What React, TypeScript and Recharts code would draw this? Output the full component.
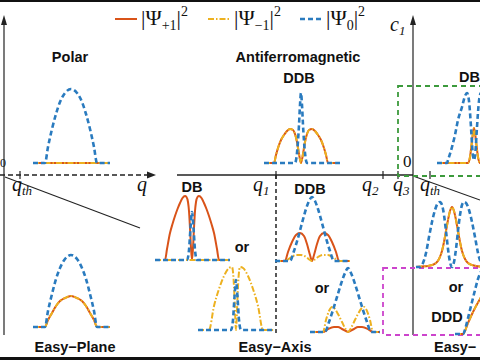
import React from "react";
import { LineChart, Line, XAxis, YAxis } from "recharts";

type Pt = [number, number];

const ORANGE = "#d95319";
const YELLOW = "#edb120";
const BLUE = "#2a7bbf";

// each curve: [offset from the plot centre, density height]
const polarZero: Pt[] = [[-38, 0], [-26, 0], [-23, 16], [-19, 34], [-15, 49], [-11, 61], [-6, 70], [0, 74], [6, 70], [11, 61], [15, 49], [19, 34], [23, 16], [26, 0], [39, 0]];
const polarPlus: Pt[] = [[-38, 0], [39, 0]];
const polarMinus: Pt[] = [[-38, 0], [39, 0]];

const afmPlus: Pt[] = [[-37, 0], [-27, 0], [-25, 8], [-23, 15], [-20, 23], [-17, 28], [-14, 32], [-11, 34], [-8, 33], [-6, 29], [-4, 21], [-2, 9], [0, 0], [2, 9], [4, 21], [6, 29], [8, 33], [11, 34], [14, 32], [17, 28], [20, 23], [23, 15], [25, 8], [27, 0], [39, 0]];
const afmZero: Pt[] = [[-37, 0], [-6, 0], [-4, 10], [-2, 38], [-1, 58], [0, 70], [1, 58], [2, 38], [4, 10], [6, 0], [39, 0]];

const rightDbZero: Pt[] = [[-37, 0], [-27, 0], [-26, 3], [-22, 16], [-19, 28], [-16, 43], [-12, 56], [-9, 67], [-7, 70], [-5, 62], [-3, 36], [-1.5, 12], [0, 3], [1.5, 12], [3, 36], [5, 62], [7, 70], [9, 67], [12, 56], [16, 43]];
const rightDbPlus: Pt[] = [[-37, 0], [-6, 0], [-4, 6], [-2, 22], [-1, 30], [0, 35], [1, 30], [2, 22], [4, 6], [6, 0], [16, 0]];

const easyZero: Pt[] = [[-38, 0], [-26, 0], [-23, 16], [-19, 33], [-15, 48], [-11, 59], [-6, 68], [0, 72], [6, 68], [11, 59], [15, 48], [19, 33], [23, 16], [26, 0], [39, 0]];
const easyPlus: Pt[] = [[-38, 0], [-26, 0], [-23, 7], [-19, 14], [-15, 21], [-11, 26], [-6, 29], [0, 31], [6, 29], [11, 26], [15, 21], [19, 14], [23, 7], [26, 0], [39, 0]];

const dbPlus: Pt[] = [[-28, 0], [-27, 0], [-25, 11], [-22, 27], [-19.5, 36], [-17, 44], [-14.5, 51], [-12, 57], [-9.5, 62], [-7, 64], [-5.5, 63], [-4, 58], [-3, 49], [-2, 32], [-1, 12], [0, 0], [1, 12], [2, 32], [3, 49], [4, 58], [5.5, 63], [7, 64], [9.5, 62], [12, 57], [14.5, 51], [17, 44], [19.5, 36], [22, 27], [25, 11], [27, 0], [28, 0]];
const dbMinus: Pt[] = [[-37, 0], [38, 0]];
const dbZero: Pt[] = [[-37, 0], [-5, 0], [-3, 10], [-1.5, 32], [0, 48], [1.5, 32], [3, 10], [5, 0], [38, 0]];

const dbOrMinus: Pt[] = [[-38, 0], [-27, 0], [-22, 24], [-17, 41], [-12, 54], [-7, 62], [-4, 63], [-2.5, 52], [-1.5, 32], [-0.7, 12], [0, 0], [0.7, 12], [1.5, 32], [2.5, 52], [4, 63], [7, 62], [12, 54], [17, 41], [22, 24], [27, 0], [39, 0]];
const dbOrZero: Pt[] = [[-38, 0], [-5, 0], [-3, 10], [-1.5, 33], [0, 50], [1.5, 33], [3, 10], [5, 0], [39, 0]];

const ddbPlus: Pt[] = [[-37, 0], [-27, 0], [-24, 9], [-20, 19], [-16, 26], [-12, 28], [-8, 25], [-5, 17], [-2, 6], [0, 0], [2, 6], [5, 17], [8, 25], [12, 28], [16, 26], [20, 19], [24, 9], [27, 0], [38, 0]];
const ddbMinus: Pt[] = [[-37, 0], [-27, 0], [-22, 3], [-16, 6], [-11, 6], [-6, 4], [-2, 1], [0, 0], [2, 1], [6, 4], [11, 6], [16, 6], [22, 3], [27, 0], [38, 0]];
const ddbZero: Pt[] = [[-37, 0], [-22, 0], [-18, 10], [-14, 23], [-10, 38], [-6, 52], [-3, 60], [0, 64], [3, 60], [6, 52], [10, 38], [14, 23], [18, 10], [22, 0], [38, 0]];

const ddbOrPlus: Pt[] = [[-38, 0], [-25, 0], [-20, 3], [-14, 5], [-10, 5], [-6, 3], [-2, 1], [0, 0], [2, 1], [6, 3], [10, 5], [14, 5], [20, 3], [25, 0], [32, 0]];
const ddbOrMinus: Pt[] = [[-38, 0], [-25, 0], [-22, 12], [-19, 21], [-16, 25], [-13, 23], [-10, 18], [-6, 10], [-3, 4], [0, 0], [3, 4], [6, 10], [10, 18], [13, 23], [16, 25], [19, 21], [22, 12], [25, 0], [32, 0]];
const ddbOrZero: Pt[] = [[-38, 0], [-23, 0], [-19, 10], [-15, 22], [-11, 35], [-7, 48], [-3, 59], [0, 64], [3, 59], [7, 48], [11, 35], [15, 22], [19, 10], [23, 0], [32, 0]];

const twinZero: Pt[] = [[-36, 0], [-32, 0], [-29, 4], [-26, 14], [-23, 30], [-20, 45], [-17, 57], [-14, 64], [-12, 65], [-10, 62], [-8, 52], [-6, 36], [-4, 18], [-2, 5], [0, 0], [2, 5], [4, 18], [6, 36], [8, 52], [10, 62], [12, 65], [14, 64], [17, 57], [20, 45], [23, 30], [26, 14], [29, 4], [30, 2]];
const twinPlus: Pt[] = [[-36, 0], [-30, 0.5], [-24, 1], [-20, 2], [-16, 4], [-13, 8], [-10, 16], [-8, 25], [-6, 36], [-4, 47], [-2, 56], [0, 60], [2, 56], [4, 47], [6, 36], [8, 25], [10, 16], [13, 8], [16, 4], [20, 2], [24, 1], [30, 0.5]];

const dddZero: Pt[] = [[-45, 0], [-37, 0], [-34, 8], [-31, 20], [-28, 32], [-25, 44], [-22, 55], [-18, 64], [-14, 68], [-8, 70]];
const dddPlus: Pt[] = [[-45, 0], [-37, 0], [-32, 11], [-27, 22], [-20, 35], [-14, 44], [-8, 48]];

const legendSubs = ["+1", "\u22121", "0"];
const legendColors = [ORANGE, YELLOW, BLUE];

type Plot = { cx: number; base: number; xmin: number; xmax: number; h: number; plus?: Pt[]; minus?: Pt[]; zero?: Pt[] };

const plots: Plot[] = [
  { cx: 71, base: 163, xmin: -38, xmax: 39, h: 80, plus: polarPlus, minus: polarMinus, zero: polarZero },
  { cx: 301, base: 163, xmin: -37, xmax: 39, h: 74, plus: afmPlus, minus: afmPlus, zero: afmZero },
  { cx: 474, base: 163, xmin: -37, xmax: 16, h: 74, plus: rightDbPlus, minus: rightDbPlus, zero: rightDbZero },
  { cx: 71, base: 327, xmin: -38, xmax: 39, h: 76, plus: easyPlus, minus: easyPlus, zero: easyZero },
  { cx: 192, base: 260, xmin: -37, xmax: 38, h: 68, plus: dbPlus, minus: dbMinus, zero: dbZero },
  { cx: 236, base: 330, xmin: -38, xmax: 39, h: 68, minus: dbOrMinus, zero: dbOrZero },
  { cx: 312, base: 261, xmin: -37, xmax: 38, h: 68, plus: ddbPlus, minus: ddbMinus, zero: ddbZero },
  { cx: 348, base: 332, xmin: -38, xmax: 32, h: 68, plus: ddbOrPlus, minus: ddbOrMinus, zero: ddbOrZero },
  { cx: 452, base: 267, xmin: -36, xmax: 30, h: 70, plus: twinPlus, minus: twinPlus, zero: twinZero },
  { cx: 500, base: 334, xmin: -45, xmax: -8, h: 72, plus: dddPlus, minus: dddPlus, zero: dddZero },
];

const rows = (pts: Pt[]) => pts.map(([x, y]) => ({ x, y }));

function MiniPlot({ p }: { p: Plot }) {
  const pad = 4;
  return (
    <div style={{ position: "absolute", left: p.cx + p.xmin - pad, top: p.base - p.h - pad }}>
      <LineChart width={p.xmax - p.xmin + pad * 2} height={p.h + pad * 2} margin={{ top: pad, right: pad, bottom: pad, left: pad }}>
        <XAxis type="number" dataKey="x" domain={[p.xmin, p.xmax]} hide />
        <YAxis type="number" dataKey="y" domain={[0, p.h]} hide />
        {p.plus && (
          <Line data={rows(p.plus)} dataKey="y" type="monotone" stroke={ORANGE} strokeWidth={2} dot={false} isAnimationActive={false} />
        )}
        {p.minus && (
          <Line data={rows(p.minus)} dataKey="y" type="monotone" stroke={YELLOW} strokeWidth={2} strokeDasharray="6 2 1.5 2" dot={false} isAnimationActive={false} />
        )}
        {p.zero && (
          <Line data={rows(p.zero)} dataKey="y" type="monotone" stroke={BLUE} strokeWidth={2.6} strokeDasharray="5 3" dot={false} isAnimationActive={false} />
        )}
      </LineChart>
    </div>
  );
}

const bold = { fontFamily: "'Liberation Sans', Arial, sans-serif", fontWeight: 700, fontSize: 14.5, fill: "#111" } as const;
const mathIt = { fontFamily: "'Liberation Serif', 'Times New Roman', serif", fontStyle: "italic", fontSize: 20, fill: "#111" } as const;

function Q({ x, y, sub }: { x: number; y: number; sub?: string }) {
  return (
    <text x={x} y={y} style={mathIt}>
      q{sub && <tspan fontSize={13} dy={4}>{sub}</tspan>}
    </text>
  );
}

export default function App() {
  return (
    <div style={{ position: "absolute", left: 0, top: 0, width: 480, height: 360, overflow: "hidden", background: "#fff" }}>
      <svg width={480} height={360} style={{ position: "absolute", left: 0, top: 0 }}>
        <rect x={0} y={0} width={480} height={2} fill="#111" />
        <rect x={0} y={357} width={480} height={3} fill="#111" />
        {/* left axes */}
        <line x1={4} y1={22} x2={4} y2={335} stroke="#222" strokeWidth={1.2} />
        <polygon points="4,15 1,25 7,25" fill="#222" />
        <line x1={0} y1={175} x2={150} y2={175} stroke="#222" strokeWidth={1.5} strokeDasharray="5 3" />
        <polygon points="156,175 147,171.5 147,178.5" fill="#222" />
        <line x1={20} y1={171} x2={20} y2={179} stroke="#222" strokeWidth={1.2} />
        <line x1={5} y1={177} x2={140} y2={228} stroke="#222" strokeWidth={1.1} />
        {/* right axes */}
        <line x1={177} y1={175} x2={413} y2={175} stroke="#222" strokeWidth={1.5} />
        {[276, 383, 398, 430].map((x) => (
          <line key={x} x1={x} y1={171} x2={x} y2={179} stroke="#222" strokeWidth={1.2} />
        ))}
        <line x1={276} y1={175} x2={276} y2={335} stroke="#222" strokeWidth={1.5} strokeDasharray="4 3" />
        <line x1={413} y1={22} x2={413} y2={335} stroke="#222" strokeWidth={1.2} />
        <polygon points="413,15 410,25 416,25" fill="#222" />
        <line x1={413} y1={176} x2={480} y2={200} stroke="#222" strokeWidth={1.1} />
        <rect x={398} y={86} width={100} height={90} fill="none" stroke="#3c9a3c" strokeWidth={1.8} strokeDasharray="5 4" />
        <rect x={383} y={268} width={110} height={67} fill="none" stroke="#cc44cc" strokeWidth={1.8} strokeDasharray="5 4" />
      </svg>

      {plots.map((p, i) => (
        <MiniPlot key={i} p={p} />
      ))}

      <svg width={480} height={360} style={{ position: "absolute", left: 0, top: 0, pointerEvents: "none" }}>
        {legendSubs.map((s, i) => {
          const x0 = [115, 208, 300][i];
          const dash = [undefined, "6 2 1.5 2", "5 3"][i];
          return (
            <g key={s}>
              <line x1={x0} y1={19} x2={x0 + 22} y2={19} stroke={legendColors[i]} strokeWidth={i === 2 ? 2.6 : 2} strokeDasharray={dash} />
              <text x={x0 + 26} y={25} style={{ fontFamily: "'Liberation Serif', serif", fontSize: 22, fill: "#111" }}>
                |Ψ<tspan fontSize={14} dy={5}>{s}</tspan>
                <tspan dy={-5} fontSize={22}>|</tspan>
                <tspan fontSize={14} dy={-9}>2</tspan>
              </text>
            </g>
          );
        })}

        <text x={70} y={62} textAnchor="middle" style={bold}>Polar</text>
        <text x={298} y={62} textAnchor="middle" style={bold}>Antiferromagnetic</text>
        <text x={299} y={83} textAnchor="middle" style={bold}>DDB</text>
        <text x={459} y={82} style={bold}>DB</text>
        <text x={192} y={192} textAnchor="middle" style={bold}>DB</text>
        <text x={310} y={194} textAnchor="middle" style={bold}>DDB</text>
        <text x={242} y={252} textAnchor="middle" style={bold}>or</text>
        <text x={322} y={293} textAnchor="middle" style={bold}>or</text>
        <text x={456} y={292} textAnchor="middle" style={bold}>or</text>
        <text x={447} y={322} textAnchor="middle" style={bold}>DDD</text>
        <text x={75} y={352} textAnchor="middle" style={bold}>Easy−Plane</text>
        <text x={275} y={352} textAnchor="middle" style={bold}>Easy−Axis</text>
        <text x={434} y={352} style={bold}>Easy−</text>

        <Q x={137} y={191} />
        <Q x={12} y={191} sub="th" />
        <Q x={253} y={191} sub="1" />
        <Q x={362} y={191} sub="2" />
        <Q x={393} y={191} sub="3" />
        <Q x={420} y={191} sub="th" />
        <text x={390} y={31} style={mathIt}>
          c<tspan fontSize={13} dy={4}>1</tspan>
        </text>
        <text x={403} y={167} style={{ ...mathIt, fontStyle: "normal", fontSize: 17 }}>0</text>
        <text x={0} y={167} style={{ ...mathIt, fontStyle: "normal", fontSize: 12 }}>0</text>
      </svg>
    </div>
  );
}
